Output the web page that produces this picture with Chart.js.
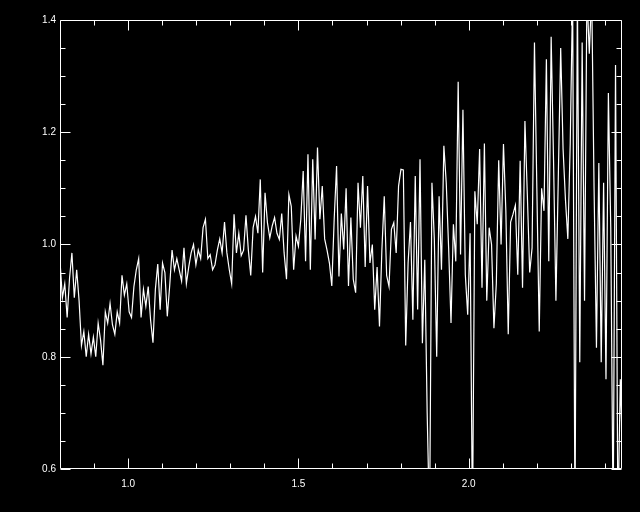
<!DOCTYPE html>
<html>
<head>
<meta charset="utf-8">
<script src="https://cdn.jsdelivr.net/npm/chart.js@4.4.1/dist/chart.umd.min.js"></script>
<style>
  html, body { margin: 0; padding: 0; background: #000; }
  canvas { display: block; }
</style>
</head>
<body>
<canvas id="spec" width="640" height="512"></canvas>
<script>
/* ===== Spektrum (IDL-Stil) ===== */

// Wellenlänge (x)
const WAVE = [
  0.800, 0.807, 0.814, 0.821, 0.828, 0.835, 0.842, 0.849, 0.856, 0.863,
  0.870, 0.877, 0.884, 0.891, 0.898, 0.905, 0.912, 0.919, 0.926, 0.933,
  0.940, 0.947, 0.954, 0.961, 0.968, 0.975, 0.982, 0.989, 0.996, 1.003,
  1.010, 1.017, 1.024, 1.031, 1.038, 1.045, 1.052, 1.059, 1.066, 1.073,
  1.080, 1.087, 1.094, 1.101, 1.108, 1.115, 1.122, 1.129, 1.136, 1.143,
  1.150, 1.157, 1.164, 1.171, 1.178, 1.185, 1.192, 1.199, 1.206, 1.213,
  1.220, 1.227, 1.234, 1.241, 1.248, 1.255, 1.262, 1.269, 1.276, 1.283,
  1.290, 1.297, 1.304, 1.311, 1.318, 1.325, 1.332, 1.339, 1.346, 1.353,
  1.360, 1.367, 1.374, 1.381, 1.388, 1.395, 1.402, 1.409, 1.416, 1.423,
  1.430, 1.437, 1.444, 1.451, 1.458, 1.465, 1.472, 1.479, 1.486, 1.493,
  1.500, 1.507, 1.514, 1.521, 1.528, 1.535, 1.542, 1.549, 1.556, 1.563,
  1.570, 1.577, 1.584, 1.591, 1.598, 1.605, 1.612, 1.619, 1.626, 1.633,
  1.640, 1.647, 1.654, 1.661, 1.668, 1.675, 1.682, 1.689, 1.696, 1.703,
  1.710, 1.717, 1.724, 1.731, 1.738, 1.745, 1.752, 1.759, 1.766, 1.773,
  1.780, 1.787, 1.794, 1.801, 1.808, 1.815, 1.822, 1.829, 1.836, 1.843,
  1.850, 1.857, 1.864, 1.871, 1.878, 1.885, 1.892, 1.899, 1.906, 1.913,
  1.920, 1.927, 1.934, 1.941, 1.948, 1.955, 1.962, 1.969, 1.976, 1.983,
  1.990, 1.997, 2.004, 2.011, 2.018, 2.025, 2.032, 2.039, 2.046, 2.053,
  2.060, 2.067, 2.074, 2.081, 2.088, 2.095, 2.102, 2.109, 2.116, 2.123,
  2.130, 2.137, 2.144, 2.151, 2.158, 2.165, 2.172, 2.179, 2.186, 2.193,
  2.200, 2.207, 2.214, 2.221, 2.228, 2.235, 2.242, 2.249, 2.256, 2.263,
  2.270, 2.277, 2.284, 2.291, 2.298, 2.305, 2.312, 2.319, 2.326, 2.333,
  2.340, 2.347, 2.354, 2.361, 2.368, 2.375, 2.382, 2.389, 2.396, 2.403,
  2.410, 2.417, 2.424, 2.431, 2.438, 2.445, 2.452
];

// normierter Fluss (y); Werte ausserhalb 0.6..1.4 laufen aus dem Bild
const FLUX = [
  0.970, 0.905, 0.930, 0.870, 0.940, 0.985, 0.905, 0.955, 0.900, 0.820,
  0.845, 0.800, 0.840, 0.805, 0.835, 0.800, 0.860, 0.830, 0.785, 0.880,
  0.860, 0.895, 0.857, 0.840, 0.880, 0.860, 0.945, 0.910, 0.930, 0.880,
  0.870, 0.925, 0.955, 0.975, 0.870, 0.920, 0.890, 0.925, 0.865, 0.825,
  0.920, 0.965, 0.884, 0.967, 0.950, 0.872, 0.926, 0.990, 0.955, 0.975,
  0.955, 0.935, 0.994, 0.930, 0.960, 0.985, 1.000, 0.964, 0.990, 0.975,
  1.030, 1.045, 0.975, 0.982, 0.955, 0.964, 0.990, 1.010, 0.985, 1.040,
  0.985, 0.955, 0.930, 1.054, 0.985, 1.020, 0.980, 0.990, 1.052, 0.990,
  0.945, 1.030, 1.050, 1.020, 1.116, 0.950, 1.092, 1.039, 1.012, 1.033,
  1.048, 1.020, 1.009, 1.055, 0.985, 0.938, 1.089, 1.068, 0.955, 1.015,
  0.997, 1.045, 1.131, 0.970, 1.161, 0.955, 1.152, 1.009, 1.173, 1.045,
  1.104, 1.010, 0.990, 0.967, 0.926, 1.045, 1.140, 0.943, 1.055, 0.991,
  1.100, 0.926, 1.048, 0.938, 0.914, 1.110, 1.030, 1.122, 0.960, 1.104,
  0.967, 1.000, 0.884, 0.960, 0.854, 0.990, 1.086, 0.945, 0.925, 1.027,
  1.039, 0.985, 1.104, 1.134, 1.133, 0.820, 0.967, 1.040, 0.866, 1.122,
  0.884, 1.152, 0.824, 0.973, 0.700, 0.500, 1.110, 1.010, 0.800, 1.086,
  0.955, 1.176, 1.110, 0.994, 0.860, 1.036, 0.970, 1.290, 0.982, 1.240,
  0.946, 0.875, 1.020, 0.500, 1.095, 1.036, 1.170, 0.923, 1.180, 0.900,
  1.030, 1.000, 0.851, 0.930, 1.150, 1.000, 1.179, 1.060, 0.840, 1.040,
  1.054, 1.070, 0.946, 1.149, 0.923, 1.220, 1.090, 0.950, 0.994, 1.360,
  1.100, 0.845, 1.100, 1.060, 1.330, 0.970, 1.370, 1.150, 0.900, 1.120,
  1.350, 1.170, 1.080, 1.010, 1.180, 1.450, 0.500, 1.450, 0.790, 1.360,
  0.900, 1.450, 1.340, 1.450, 1.100, 0.816, 1.145, 0.790, 1.110, 0.760,
  1.270, 1.030, 0.500, 1.320, 0.500, 0.760, 0.620
];

// Achsenteilung
const X_MAJOR = [1.0, 1.5, 2.0];
const X_MINOR = [0.9, 1.1, 1.2, 1.3, 1.4, 1.6, 1.7, 1.8, 1.9, 2.1, 2.2, 2.3, 2.4];
const Y_MAJOR = [0.6, 0.8, 1.0, 1.2, 1.4];
const Y_MINOR = [0.65, 0.7, 0.75, 0.85, 0.9, 0.95, 1.05, 1.1, 1.15, 1.25, 1.3, 1.35];

const FG = '#ffffff';
const FONT = { family: 'Liberation Sans', size: 10 };

// Rahmen + nach innen zeigende Tickmarken auf allen vier Seiten (wie IDL)
const idlFrame = {
  id: 'idlFrame',
  beforeDraw(chart) {
    const { ctx, width, height } = chart;
    ctx.save();
    ctx.fillStyle = '#000';
    ctx.fillRect(0, 0, width, height);
    ctx.restore();
  },
  afterDraw(chart) {
    const { ctx, chartArea: a, scales } = chart;
    const L = Math.round(a.left) + 0.5, R = Math.round(a.right) - 0.5;
    const T = Math.round(a.top) + 0.5, B = Math.round(a.bottom) - 0.5;
    ctx.save();
    ctx.strokeStyle = FG;
    ctx.lineWidth = 1;
    ctx.beginPath();
    ctx.rect(L, T, R - L, B - T);
    const tx = (v, len) => {
      const p = Math.round(scales.x.getPixelForValue(v)) + 0.5;
      ctx.moveTo(p, B); ctx.lineTo(p, B - len);
      ctx.moveTo(p, T); ctx.lineTo(p, T + len);
    };
    const ty = (v, len) => {
      const p = Math.round(scales.y.getPixelForValue(v)) + 0.5;
      ctx.moveTo(L, p); ctx.lineTo(L + len, p);
      ctx.moveTo(R, p); ctx.lineTo(R - len, p);
    };
    X_MAJOR.forEach(v => tx(v, 10));
    X_MINOR.forEach(v => tx(v, 5));
    Y_MAJOR.forEach(v => ty(v, 10));
    Y_MINOR.forEach(v => ty(v, 5));
    ctx.stroke();
    ctx.restore();
  },
};

new Chart(document.getElementById('spec'), {
  type: 'line',
  data: {
    datasets: [{
      data: WAVE.map((w, i) => ({ x: w, y: FLUX[i] })),
      borderColor: FG,
      borderWidth: 1.2,
      pointRadius: 0,
      tension: 0,
      fill: false,
    }],
  },
  options: {
    responsive: false,
    animation: false,
    devicePixelRatio: 1,
    layout: { padding: { top: 20, right: 18, left: 0, bottom: 0 } },
    plugins: { legend: { display: false }, tooltip: { enabled: false } },
    scales: {
      x: {
        type: 'linear',
        min: 0.8,
        max: 2.45,
        grid: { display: false, drawTicks: false },
        border: { display: false },
        afterBuildTicks: s => { s.ticks = X_MAJOR.map(v => ({ value: v })); },
        afterFit: s => { s.height = 43; },
        ticks: { color: FG, font: FONT, padding: 9, autoSkip: false, maxRotation: 0, callback: v => Number(v).toFixed(1) },
      },
      y: {
        type: 'linear',
        min: 0.6,
        max: 1.4,
        grid: { display: false, drawTicks: false },
        border: { display: false },
        afterBuildTicks: s => { s.ticks = Y_MAJOR.map(v => ({ value: v })); },
        afterFit: s => { s.width = 60; },
        ticks: { color: FG, font: FONT, padding: 4, autoSkip: false, callback: v => Number(v).toFixed(1) },
      },
    },
  },
  plugins: [idlFrame],
});
</script>
</body>
</html>
